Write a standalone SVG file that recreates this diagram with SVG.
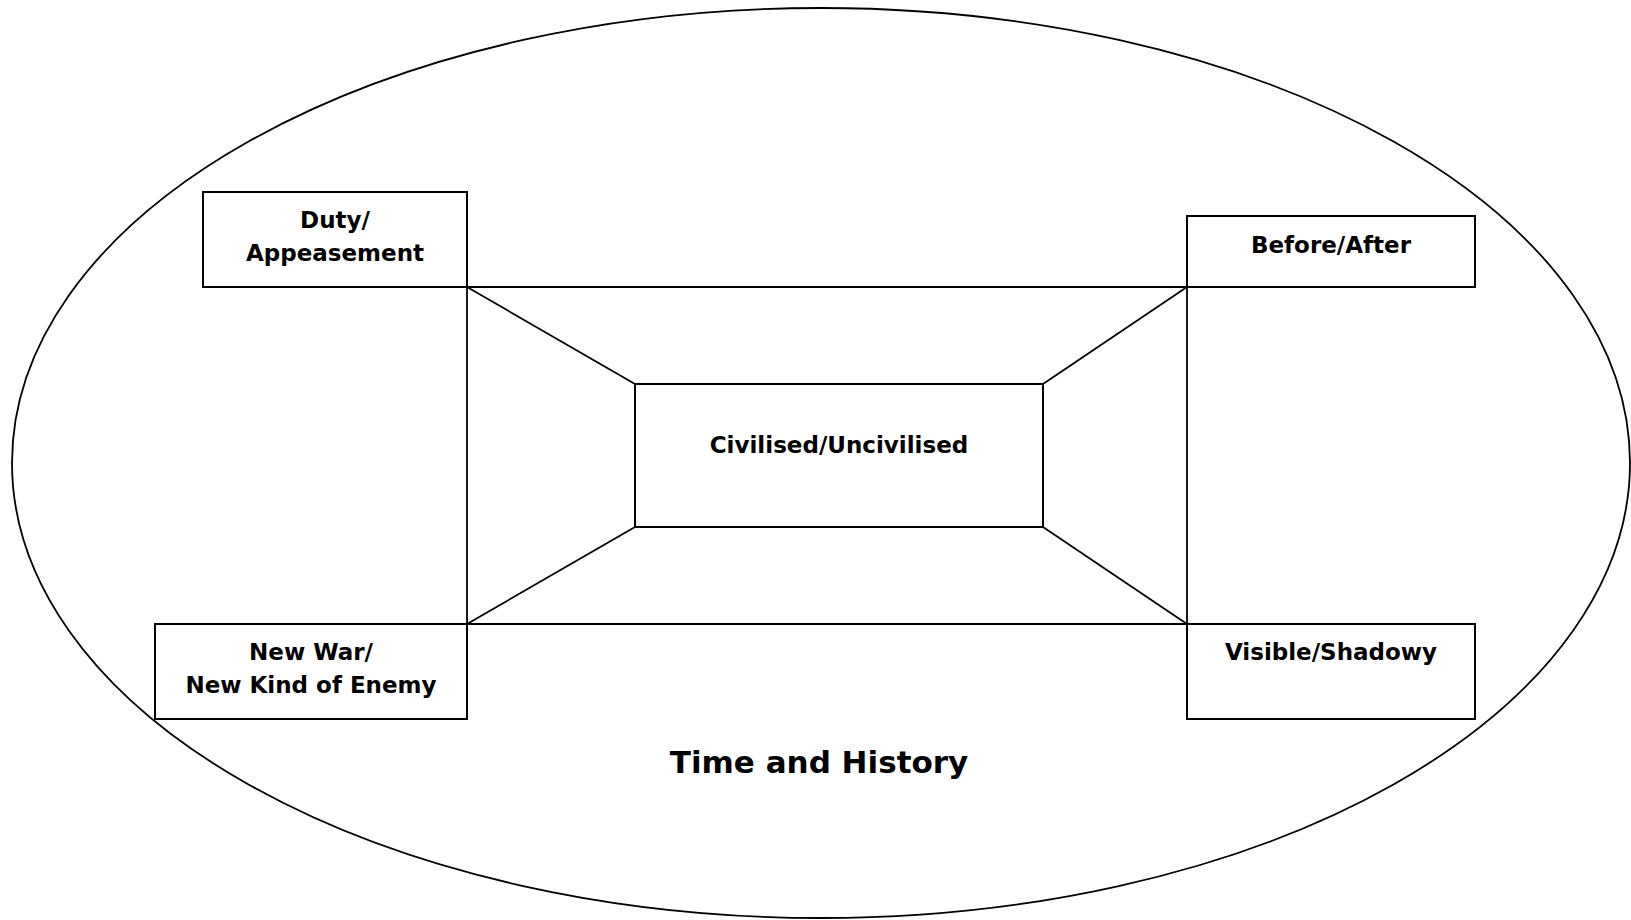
<svg xmlns="http://www.w3.org/2000/svg" width="1631" height="920" viewBox="0 0 1631 920">
<style>
.box{fill:#fff;stroke:#000;stroke-width:2}
.ln{stroke:#000;stroke-width:1.8;fill:none}
.t{font-family:"DejaVu Sans",sans-serif;font-weight:bold;font-size:23px;fill:#000;text-anchor:middle}
</style>
<rect width="1631" height="920" fill="#fff"/>
<g id="frame">
<ellipse cx="821" cy="463" rx="809" ry="455" fill="none" stroke="#000" stroke-width="1.8"/>
<text class="t" x="819" y="773" style="font-size:31px">Time and History</text>
</g>
<g id="connectors">
<line class="ln" x1="467" y1="287" x2="1187" y2="287"/>
<line class="ln" x1="467" y1="624" x2="1187" y2="624"/>
<line class="ln" x1="467" y1="287" x2="467" y2="624"/>
<line class="ln" x1="1187" y1="287" x2="1187" y2="624"/>
<line class="ln" x1="467" y1="287" x2="635" y2="384"/>
<line class="ln" x1="1187" y1="287" x2="1043" y2="384"/>
<line class="ln" x1="467" y1="624" x2="635" y2="527"/>
<line class="ln" x1="1187" y1="624" x2="1043" y2="527"/>
</g>
<g id="duty">
<rect class="box" x="203" y="192" width="264" height="95"/>
<text class="t" x="335" y="228">Duty/</text>
<text class="t" x="335" y="261">Appeasement</text>
</g>
<g id="before">
<rect class="box" x="1187" y="216" width="288" height="71"/>
<text class="t" x="1331" y="253">Before/After</text>
</g>
<g id="center">
<rect class="box" x="635" y="384" width="408" height="143"/>
<text class="t" x="839" y="453">Civilised/Uncivilised</text>
</g>
<g id="newwar">
<rect class="box" x="155" y="624" width="312" height="95"/>
<text class="t" x="311" y="660">New War/</text>
<text class="t" x="311" y="693">New Kind of Enemy</text>
</g>
<g id="visible">
<rect class="box" x="1187" y="624" width="288" height="95"/>
<text class="t" x="1331" y="660">Visible/Shadowy</text>
</g>
</svg>
